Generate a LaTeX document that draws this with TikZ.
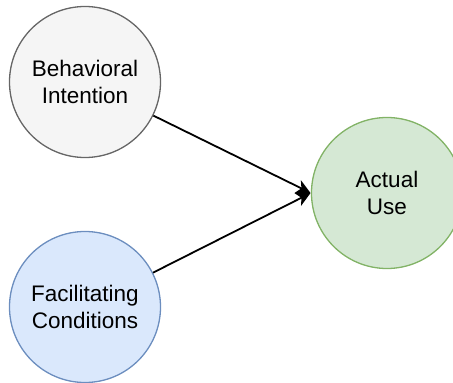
\documentclass[tikz,border=0pt]{standalone}
\usepackage{fontspec}
\setmainfont{Liberation Sans}
\usetikzlibrary{arrows.meta}
\definecolor{grayfill}{HTML}{F5F5F5}
\definecolor{graydraw}{HTML}{666666}
\definecolor{bluefill}{HTML}{DAE8FC}
\definecolor{bluedraw}{HTML}{6C8EBF}
\definecolor{greenfill}{HTML}{D5E8D4}
\definecolor{greendraw}{HTML}{82B366}
\tikzset{
  construct/.style={circle, minimum size=151pt, inner sep=0pt, line width=1.3pt, align=center,
    font=\fontsize{22.5}{27}\selectfont},
  link/.style={line width=1.8pt, -{Stealth[length=14pt, width=14pt, inset=4pt]}, shorten >=0.5pt}
}
\begin{document}
\begin{tikzpicture}[x=1pt, y=-1pt]
  \useasboundingbox (0,0) rectangle (453,383);
  \node[construct, draw=graydraw, fill=grayfill] (bi) at (85,82) {Behavioral\\Intention};
  \node[construct, draw=bluedraw, fill=bluefill] (fc) at (85,307) {Facilitating\\Conditions};
  \node[construct, draw=greendraw, fill=greenfill] (au) at (387,193) {Actual\\Use};
  \draw[link] (bi) -- (au.west);
  \draw[link] (fc) -- (au.west);
\end{tikzpicture}
\end{document}
